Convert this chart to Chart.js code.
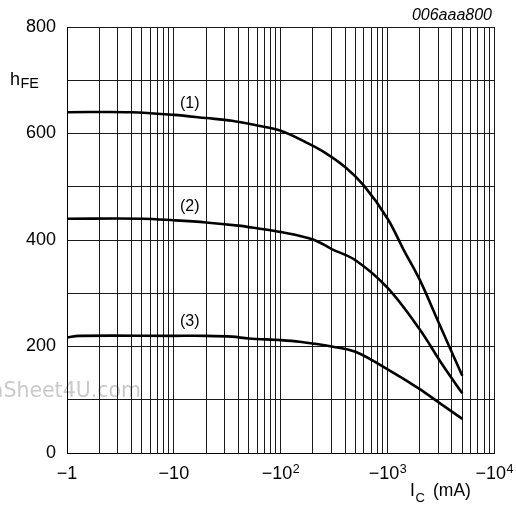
<!DOCTYPE html>
<html>
<head>
<meta charset="utf-8">
<script src="https://cdn.jsdelivr.net/npm/chart.js@4.4.0/dist/chart.umd.min.js"></script>
<style>
  html, body { margin: 0; padding: 0; background: #fff; }
  #wrap { width: 516px; height: 507px; position: relative; }
</style>
</head>
<body>
<div id="wrap"><canvas id="c" width="516" height="507"></canvas></div>
<script>
// Collector current magnitude (mA) and DC current gain hFE
const ic1  = [1, 4, 10, 20, 35, 60, 100, 170, 250, 400, 600, 1000, 1400, 2000, 3000, 5000];
const hfe1 = [640, 640, 635, 629, 624, 615, 605, 584, 566, 537, 502, 440, 383, 325, 245, 145];

const ic2  = [1, 5, 10, 20, 40, 60, 100, 200, 300, 500, 1000, 2000, 3200, 5000];
const hfe2 = [440, 440, 437, 433, 427, 422, 415, 401, 383, 362, 310, 232, 168, 112];

const ic3  = [1, 1.3, 10, 20, 35, 50, 100, 150, 300, 500, 1000, 2000, 3000, 5000];
const hfe3 = [217, 220, 220, 220, 218.5, 215, 212, 209, 200, 190, 157, 120, 95, 64];

const curveNames = ['(1)', '(2)', '(3)'];
const xTickValues = [1, 10, 100, 1000, 10000];
const xTickBase   = ['\u22121', '\u221210', '\u221210', '\u221210', '\u221210'];
const xTickExp    = ['', '', '2', '3', '4'];
const yTickLabels = [0, 200, 400, 600, 800];

function pts(xs, ys) { return xs.map((x, i) => ({ x: x, y: ys[i] })); }

const FONT = '"Liberation Sans", Arial, sans-serif';

const decorPlugin = {
  id: 'decor',
  beforeDraw(chart) {
    const ctx = chart.ctx;
    ctx.save();
    ctx.fillStyle = '#c9c9c9';
    ctx.font = '20.5px "DejaVu Sans", sans-serif';
    ctx.textAlign = 'right';
    ctx.textBaseline = 'alphabetic';
    ctx.fillText('www.DataSheet4U.com', 141, 397);
    ctx.restore();
  },
  afterDraw(chart) {
    const ctx = chart.ctx;
    const xs = chart.scales.x, ys = chart.scales.y;
    ctx.save();
    ctx.fillStyle = '#000';
    ctx.textBaseline = 'alphabetic';
    // x tick labels with real superscripts
    const baseFont = '18px ' + FONT, supFont = '12.5px ' + FONT;
    xTickValues.forEach((v, i) => {
      ctx.font = baseFont;
      const wb = ctx.measureText(xTickBase[i]).width;
      ctx.font = supFont;
      const we = xTickExp[i] ? ctx.measureText(xTickExp[i]).width + 0.5 : 0;
      const x0 = xs.getPixelForValue(v) - (wb + we) / 2;
      ctx.textAlign = 'left';
      ctx.font = baseFont;
      ctx.fillText(xTickBase[i], x0, 479);
      if (xTickExp[i]) {
        ctx.font = supFont;
        ctx.fillText(xTickExp[i], x0 + wb + 0.5, 472.5);
      }
    });
    // figure code
    ctx.font = 'italic 16px ' + FONT;
    ctx.textAlign = 'right';
    ctx.fillText('006aaa800', 492, 20);
    // y axis title h_FE
    ctx.textAlign = 'left';
    ctx.font = '18px ' + FONT;
    ctx.fillText('h', 10, 85);
    ctx.font = '14.5px ' + FONT;
    ctx.fillText('FE', 20.5, 87.5);
    // x axis title I_C (mA)
    ctx.font = '17.5px ' + FONT;
    ctx.fillText('I', 410, 496);
    ctx.font = '13px ' + FONT;
    ctx.fillText('C', 415.5, 502);
    ctx.font = '17.5px ' + FONT;
    ctx.fillText('(mA)', 433, 496);
    // curve labels
    ctx.font = '16px ' + FONT;
    ctx.textAlign = 'center';
    ctx.textBaseline = 'middle';
    const labY = [657, 462, 246];
    curveNames.forEach((t, i) => {
      ctx.fillText(t, xs.getPixelForValue(14.1), ys.getPixelForValue(labY[i]));
    });
    ctx.restore();
  }
};

const lineStyle = { borderColor: '#000', borderWidth: 2.6, pointRadius: 0, fill: false,
                    cubicInterpolationMode: 'default', tension: 0.35 };

new Chart(document.getElementById('c'), {
  type: 'line',
  data: {
    datasets: [
      Object.assign({ label: curveNames[0], data: pts(ic1, hfe1) }, lineStyle),
      Object.assign({ label: curveNames[1], data: pts(ic2, hfe2) }, lineStyle),
      Object.assign({ label: curveNames[2], data: pts(ic3, hfe3) }, lineStyle)
    ]
  },
  options: {
    responsive: false,
    animation: false,
    devicePixelRatio: 1,
    layout: { padding: { top: 27, right: 21.5, left: 0, bottom: 0 } },
    plugins: { legend: { display: false }, tooltip: { enabled: false } },
    scales: {
      x: {
        type: 'logarithmic',
        min: 1, max: 10000,
        afterBuildTicks(s) {
          const t = [];
          for (let d = 1; d < 10000; d *= 10) for (let k = 1; k < 10; k++) t.push({ value: k * d });
          t.push({ value: 10000 });
          s.ticks = t;
        },
        afterFit(s) { s.height = 54; s.paddingLeft = 0; s.paddingRight = 0; },
        grid: { color: '#1a1a1a', lineWidth: 1, drawTicks: false },
        border: { display: true, color: '#000', width: 1 },
        ticks: {
          autoSkip: false, maxRotation: 0, padding: 11, color: '#000',
          font: { family: FONT, size: 18 },
          callback: () => ''
        }
      },
      y: {
        min: 0, max: 800,
        afterBuildTicks(s) {
          const t = [];
          for (let v = 0; v <= 800; v += 100) t.push({ value: v });
          s.ticks = t;
        },
        afterFit(s) { s.width = 67; s.paddingTop = 0; s.paddingBottom = 0; },
        grid: { color: '#1a1a1a', lineWidth: 1, drawTicks: false },
        border: { display: true, color: '#000', width: 1 },
        ticks: {
          autoSkip: false, padding: 11, color: '#000',
          font: { family: FONT, size: 18 },
          callback: (v) => yTickLabels.includes(v) ? String(v) : ''
        }
      }
    }
  },
  plugins: [decorPlugin]
});
</script>
</body>
</html>
